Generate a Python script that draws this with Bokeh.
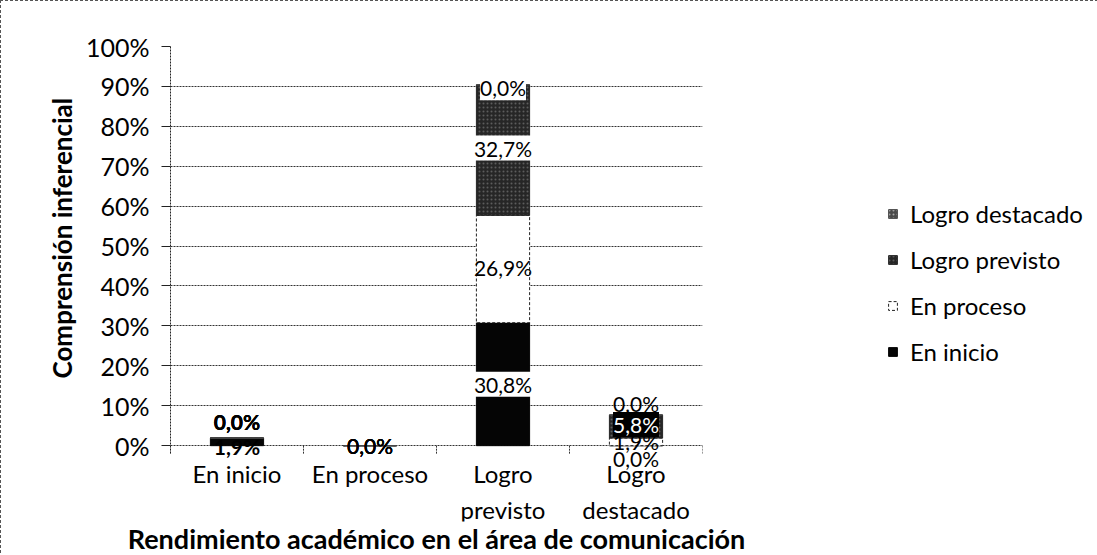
from bokeh.plotting import figure
from bokeh.models import (ColumnDataSource, Range1d, FixedTicker, NumeralTickFormatter,
                          Legend, LegendItem, FactorRange, Title)
from bokeh.core.properties import value
from bokeh.embed import file_html
from bokeh.resources import INLINE

# ---------------- data ----------------
categories = ["En inicio", "En proceso", "Logro previsto", "Logro destacado"]
cat_line1 = ["En inicio", "En proceso", "Logro", "Logro"]
cat_line2 = ["", "", "previsto", "destacado"]
series = ["En inicio", "En proceso", "Logro previsto", "Logro destacado"]
en_inicio = [1.9, 0.0, 30.8, 0.0]
en_proceso = [0.0, 0.0, 26.9, 1.9]
logro_previsto = [0.0, 0.0, 32.7, 5.8]
logro_destacado = [0.0, 0.0, 0.0, 0.0]
y_ticks = [i / 10 for i in range(11)]
x_title = "Rendimiento académico en el área de comunicación"
y_title = "Comprensión inferencial"

values = [en_inicio, en_proceso, logro_previsto, logro_destacado]
keys = ["s0", "s1", "s2", "s3"]

FONT = "Lato"

# ---------------- style ----------------
fills = ["#050505", "#ffffff", "#262626", "#4a4a4a"]
lines = ["#050505", "#222222", "#262626", "#4a4a4a"]
hatches = [" ", " ", ".", "."]
hatch_cols = ["#050505", "#ffffff", "#5c5c5c", "#a8a8a8"]

p = figure(x_range=FactorRange(*categories), y_range=Range1d(-0.19, 1),
           frame_width=532, frame_height=475,
           min_border_left=169, min_border_right=394,
           min_border_top=45, min_border_bottom=0,
           output_backend="svg", toolbar_location=None,
           background_fill_color="white", border_fill_color="white")
p.outline_line_color = None
p.styles = {"border": "1px dashed #555"}

src = ColumnDataSource({"cat": categories, **{k: [v / 100 for v in vals] for k, vals in zip(keys, values)}})

renderers = p.vbar_stack(keys, x="cat", width=0.4, source=src,
                         fill_color=fills, line_color=lines, line_width=1,
                         hatch_pattern=hatches, hatch_color=hatch_cols,
                         hatch_scale=4, hatch_weight=1)
renderers[1].glyph.line_dash = "3 2"

# category boundary tick marks under the axis
bounds = [(c, -0.5) for c in categories] + [(categories[-1], 0.5)]
p.segment(x0=bounds, y0=[0] * len(bounds), x1=bounds, y1=[-0.02] * len(bounds),
          line_color="#333333", line_width=1, line_dash="2 1")

# category labels (two lines)
csrc = ColumnDataSource(dict(x=categories, y=[0] * 4, l1=cat_line1, l2=cat_line2))
p.text(x="x", y="y", text="l1", y_offset=28, source=csrc, text_align="center",
       text_baseline="middle", text_font=value(FONT), text_font_size="24px", text_color="black")
p.text(x="x", y="y", text="l2", y_offset=64, source=csrc, text_align="center",
       text_baseline="middle", text_font=value(FONT), text_font_size="24px", text_color="black")

# ---------------- data labels ----------------
# pixel offsets (style, positive = up) keyed by (series index, category index)
y_off = {(0, 0): -5, (1, 0): 17, (2, 0): 17, (3, 0): 17,
         (0, 2): 0, (1, 2): 2, (2, 2): 2, (3, 2): -3,
         (0, 3): -13, (1, 3): 0, (2, 3): 2, (3, 3): 11}
bg_style = {(0, 2): ("white", "black"), (2, 2): ("white", "black"),
            (3, 2): ("white", "black"), (2, 3): ("black", "white")}

lx, ly, lt, loff, lbg, lcol, lstyle = [], [], [], [], [], [], []
for ci, cat in enumerate(categories):
    cum = 0.0
    for si in range(len(series)):
        v = values[si][ci] / 100
        lx.append(cat)
        ly.append(cum + v / 2)
        cum += v
        lt.append(f"{values[si][ci]:.1f}".replace(".", ",") + "%")
        loff.append(-y_off.get((si, ci), 0))
        bg, col = bg_style.get((si, ci), ("rgba(0,0,0,0)", "black"))
        lbg.append(bg)
        lcol.append(col)
        lstyle.append("bold" if ci == 0 else "normal")

lsrc = ColumnDataSource(dict(x=lx, y=ly, t=lt, off=loff, bg=lbg, col=lcol, st=lstyle))
p.text(x="x", y="y", text="t", y_offset="off", source=lsrc,
       text_align="center", text_baseline="middle",
       text_font=value(FONT), text_font_size="21px", text_color="col",
       text_font_style="st",
       background_fill_color="bg")

# ---------------- axes ----------------
p.yaxis.ticker = FixedTicker(ticks=y_ticks)
p.yaxis.bounds = (-0.02, 1)
p.yaxis.formatter = NumeralTickFormatter(format="0%")
p.yaxis.axis_line_dash = "2 1"
p.yaxis.axis_line_color = "#222222"
p.yaxis.major_tick_out = 9
p.yaxis.major_tick_in = 0
p.yaxis.major_tick_line_color = "#222222"
p.yaxis.minor_tick_line_color = None
p.yaxis.major_label_standoff = 12
p.yaxis.major_label_text_font = FONT
p.yaxis.major_label_text_font_size = "25px"
p.yaxis.major_label_text_color = "black"

ytitle = Title(text=y_title, align="left", offset=143, text_font=FONT,
               text_font_size="26px", text_font_style="bold", text_color="black",
               standoff=10)
p.add_layout(ytitle, "left")

p.xaxis.axis_line_color = None
p.xaxis.major_tick_line_color = None
p.xaxis.major_tick_out = 0
p.xaxis.minor_tick_line_color = None
p.xaxis.major_label_text_font_size = "1px"
p.xaxis.major_label_text_color = None
p.xaxis.major_label_standoff = 0
p.xaxis.axis_label = x_title
p.xaxis.axis_label_text_font = FONT
p.xaxis.axis_label_text_font_size = "27px"
p.xaxis.axis_label_text_font_style = "bold"
p.xaxis.axis_label_text_color = "black"
p.xaxis.axis_label_standoff = 0

p.xgrid.grid_line_color = None
p.ygrid.grid_line_color = "#333333"
p.ygrid.grid_line_dash = "2 1"
p.ygrid.grid_line_width = 1

# ---------------- legend ----------------
items = [LegendItem(label=series[i], renderers=[renderers[i]]) for i in reversed(range(4))]
legend = Legend(items=items, location=(185, 155), orientation="vertical",
                label_text_font=FONT, label_text_font_size="24px",
                label_text_color="black",
                glyph_width=11, glyph_height=11, label_height=27,
                spacing=17, label_standoff=12, padding=0, margin=0,
                border_line_color=None, background_fill_alpha=0)
p.add_layout(legend, "right")

open("out.html", "w").write(file_html(p, INLINE))
